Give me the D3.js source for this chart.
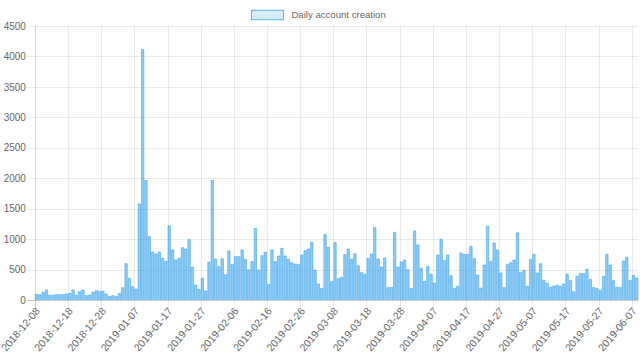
<!DOCTYPE html>
<html>
<head>
<meta charset="utf-8">
<script src="https://cdn.jsdelivr.net/npm/d3@7"></script>
<style>
  html, body { margin: 0; padding: 0; background: #fff; }
  svg { display: block; font-family: "Liberation Sans", Arial, Helvetica, sans-serif; }
</style>
</head>
<body>
<svg id="chart" width="640" height="361"></svg>
<script>
// ---- data ----
const seriesName = "Daily account creation";
const tickLabels = [
  "2018-12-08","2018-12-18","2018-12-28","2019-01-07","2019-01-17","2019-01-27",
  "2019-02-06","2019-02-16","2019-02-26","2019-03-08","2019-03-18","2019-03-28",
  "2019-04-07","2019-04-17","2019-04-27","2019-05-07","2019-05-17","2019-05-27",
  "2019-06-07"
];
const values = [
  93, 88, 126, 164, 77, 77, 93, 88, 88, 99,
  110, 164, 77, 137, 164, 71, 82, 126, 153, 142,
  142, 99, 60, 71, 60, 110, 203, 597, 356, 219,
  181, 1577, 4110, 1960, 1040, 789, 756, 789, 690, 635,
  1216, 821, 657, 685, 860, 838, 991, 542, 246, 175,
  356, 148, 619, 1966, 673, 548, 679, 416, 805, 586,
  712, 712, 821, 663, 493, 630, 1177, 493, 728, 783,
  252, 821, 630, 723, 849, 723, 668, 613, 591, 586,
  739, 810, 838, 947, 493, 263, 192, 1073, 865, 301,
  942, 350, 372, 745, 838, 673, 761, 564, 449, 422,
  679, 756, 1188, 673, 542, 690, 203, 208, 1112, 542,
  624, 657, 498, 186, 1134, 904, 520, 307, 553, 422,
  279, 739, 997, 646, 739, 400, 192, 225, 772, 750,
  750, 882, 679, 411, 197, 575, 1210, 635, 936, 821,
  444, 203, 586, 613, 657, 1101, 449, 493, 225, 668,
  750, 444, 597, 323, 274, 208, 230, 241, 225, 263,
  422, 323, 137, 389, 438, 433, 504, 340, 203, 192,
  159, 389, 750, 575, 318, 208, 203, 641, 701, 323,
  405, 361
];
const yTicks = [0, 500, 1000, 1500, 2000, 2500, 3000, 3500, 4000, 4500];

// categories: each labelled date followed by the next days in its group of ten
const parse = d3.timeParse("%Y-%m-%d"), fmt = d3.timeFormat("%Y-%m-%d");
const categories = values.map((v, i) => {
  const base = parse(tickLabels[Math.floor(i / 10)]);
  return fmt(d3.timeDay.offset(base, i % 10));
});

// ---- layout ----
const svg = d3.select("#chart");
const plotLeft = 34.9, plotRight = 638.4, plotTop = 25.9, plotBottom = 300;
const textColor = "#666";
const blue = "rgb(54,162,235)";

const x = d3.scaleBand().domain(categories).range([plotLeft, plotRight])
  .paddingInner(0.28).paddingOuter(0.14);
const step = x.step();
const y = d3.scaleLinear().domain([0, 4500]).range([plotBottom, plotTop]);

// horizontal grid lines + y labels
const gy = svg.append("g");
gy.selectAll("line").data(yTicks).join("line")
  .attr("x1", plotLeft - 8).attr("x2", plotRight)
  .attr("y1", d => Math.round(y(d)) + 0.5).attr("y2", d => Math.round(y(d)) + 0.5)
  .attr("stroke", d => d === 0 ? "rgba(0,0,0,0.25)" : "rgba(0,0,0,0.1)")
  .attr("stroke-width", 0.8);
const yAxis = d3.axisLeft(y).tickValues(yTicks).tickFormat(d3.format("d")).tickSize(0).tickPadding(0);
const gyl = svg.append("g").attr("transform", `translate(${plotLeft - 9},0)`).call(yAxis);
gyl.select(".domain").remove();
gyl.selectAll("text").attr("font-size", 10).attr("fill", textColor)
  .attr("font-family", "Liberation Sans, Arial, sans-serif");

// vertical grid lines (at band edges every 10 categories)
const tickIdx = tickLabels.map((t, k) => k * 10);
const gx = svg.append("g");
gx.selectAll("line").data(tickIdx).join("line")
  .attr("x1", i => Math.round(x(categories[i]) - step * 0.14) + 0.5)
  .attr("x2", i => Math.round(x(categories[i]) - step * 0.14) + 0.5)
  .attr("y1", plotTop).attr("y2", plotBottom + 8)
  .attr("stroke", i => i === 0 ? "rgba(0,0,0,0.22)" : "rgba(0,0,0,0.1)")
  .attr("stroke-width", 0.8);

// x labels
gx.selectAll("text").data(tickIdx).join("text")
  .attr("transform", i => `translate(${x(categories[i]) + x.bandwidth() / 2 + 1},${plotBottom + 9}) rotate(-50)`)
  .attr("text-anchor", "end").attr("dy", "0.35em")
  .attr("font-size", 10.4).attr("fill", textColor)
  .text((i, k) => tickLabels[k]);

// bars
const bw = x.bandwidth();
svg.append("g").selectAll("path").data(values).join("path")
  .attr("d", (v, i) => {
    const x0 = x(categories[i]), y0 = y(v);
    return `M${x0},${plotBottom} V${y0} H${x0 + bw} V${plotBottom}`;
  })
  .attr("fill", "rgba(54,162,235,0.55)").attr("stroke", blue)
  .attr("stroke-opacity", 0.8).attr("stroke-width", 0.7);

// legend
const lg = svg.append("g");
lg.append("rect").attr("x", 251.4).attr("y", 10.2).attr("width", 32).attr("height", 9.6)
  .attr("fill", "rgba(54,162,235,0.2)").attr("stroke", blue).attr("stroke-width", 0.8);
lg.append("text").attr("x", 291.4).attr("y", 15).attr("dy", "0.35em")
  .attr("font-size", 9.6).attr("fill", textColor).text(seriesName);
</script>
</body>
</html>
